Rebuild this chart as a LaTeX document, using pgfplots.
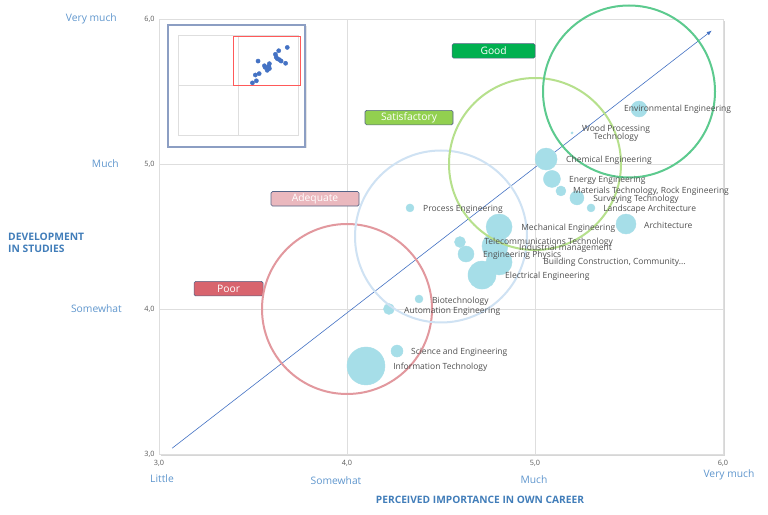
\documentclass[border=0pt]{standalone}
\usepackage{fontspec}
\setmainfont{Open Sans}
\usepackage{pgfplots}
\usepackage{pgfplotstable}
\pgfplotsset{compat=1.18}
\usetikzlibrary{arrows.meta}

\definecolor{bubblec}{RGB}{166,222,232}
\definecolor{dotc}{RGB}{68,114,196}
\definecolor{gridc}{RGB}{222,222,222}
\definecolor{tickc}{RGB}{89,89,89}
\definecolor{lblc}{RGB}{80,80,80}
\definecolor{titlec}{RGB}{65,125,185}
\definecolor{catc}{RGB}{95,150,205}
\definecolor{ringpoor}{RGB}{226,152,158}
\definecolor{ringadeq}{RGB}{207,226,243}
\definecolor{ringsat}{RGB}{182,224,140}
\definecolor{ringgood}{RGB}{92,202,142}
\definecolor{boxgood}{RGB}{0,176,80}
\definecolor{boxsat}{RGB}{146,208,80}
\definecolor{boxadeq}{RGB}{234,184,190}
\definecolor{boxpoor}{RGB}{216,100,110}
\definecolor{boxedge}{RGB}{85,100,135}
\definecolor{insetc}{RGB}{140,158,195}

% importance, development, bubble radius (pt)
\pgfplotstableread{
x     y     r
5.553 5.379 8
5.197 5.214 1.2
5.059 5.034 11
5.090 4.897 8.5
5.138 4.814 5
5.223 4.766 7
5.298 4.697 4
5.484 4.586 10
4.335 4.697 4
4.809 4.566 13
4.601 4.462 5.5
4.633 4.379 8
4.787 4.434 13
4.809 4.324 13
4.718 4.234 14
4.383 4.069 4
4.223 4.000 5.5
4.266 3.710 6
4.101 3.607 19
}\bubbles

% where each name starts (west end of the text)
\pgfplotstableread[col sep=semicolon]{
x;y;label
5.473;5.379;Environmental Engineering
5.165;5.028;Chemical Engineering
5.181;4.890;Energy Engineering
5.202;4.814;Materials Technology, Rock Engineering
5.309;4.759;Surveying Technology
5.362;4.690;Landscape Architecture
5.580;4.579;Architecture
4.926;4.559;Mechanical Engineering
4.404;4.690;Process Engineering
4.729;4.462;Telecommunications Technology
4.915;4.421;Industrial management
4.723;4.372;Engineering Physics
5.043;4.324;Building Construction, Community...
4.840;4.228;Electrical Engineering
4.452;4.055;Biotechnology
4.303;3.986;Automation Engineering
4.340;3.703;Science and Engineering
4.245;3.600;Information Technology
}\names

\begin{document}
\begin{tikzpicture}[
    lbl/.style={font=\fontsize{8.5}{9}\selectfont, text=lblc, inner sep=0pt, anchor=west},
    lvl/.style={draw=boxedge, line width=0.6pt, rounded corners=1.5pt, text=white,
      font=\fontsize{10.3}{11}\selectfont, minimum height=14.5pt, inner sep=0pt},
    cat/.style={font=\fontsize{10.3}{11}\selectfont, text=catc, inner sep=0pt},
  ]
  \useasboundingbox (-159pt,-60pt) rectangle (609pt,454pt);
  \fill[black!16] (2pt,-2pt) rectangle (566pt,433pt);

  \begin{axis}[
      at={(0pt,0pt)}, anchor=south west,
      x=188pt, y=145pt,
      xmin=3, xmax=6, ymin=3, ymax=6,
      xtick={3,4,5,6}, ytick={3,4,5,6},
      axis line style={draw=gridc, line width=0.8pt},
      axis background/.style={fill=white},
      grid=major, major grid style={draw=gridc, line width=0.7pt},
      tick style={draw=none},
      ticklabel style={font=\fontsize{7.3}{8}\selectfont, text=tickc},
      /pgf/number format/use comma,
      /pgf/number format/fixed,
      /pgf/number format/fixed zerofill,
      /pgf/number format/precision=1,
      /pgf/number format/assume math mode=true,
      xticklabel style={yshift=-3pt},
      yticklabel style={xshift=-1pt},
      clip=false,
    ]
    \addplot[scatter, only marks, mark=*,
      scatter/use mapped color={draw=bubblec, fill=bubblec},
      visualization depends on={\thisrow{r} \as \rad},
      scatter/@pre marker code/.append style={/tikz/mark size=\rad pt}]
      table[x=x, y=y, meta=r] {\bubbles};

    \addplot[only marks, mark=o, mark size=85pt,
      mark options={line width=2pt, draw=ringpoor}]
      coordinates {(4.0,4.0)};
    \addplot[only marks, mark=o, mark size=86pt,
      mark options={line width=2pt, draw=ringadeq}]
      coordinates {(4.5,4.5)};
    \addplot[only marks, mark=o, mark size=86pt,
      mark options={line width=2pt, draw=ringsat}]
      coordinates {(5.0,5.0)};
    \addplot[only marks, mark=o, mark size=86pt,
      mark options={line width=2pt, draw=ringgood}]
      coordinates {(5.5,5.5)};

    \addplot[dotc, line width=0.6pt, -{Latex[length=5pt,width=4pt]}]
      coordinates {(3.07,3.04) (5.94,5.92)};

    % names, drawn after the bubbles so that they lie on top
    \addplot[only marks, mark=none, nodes near coords,
      point meta=explicit symbolic,
      every node near coord/.style={lbl}]
      table[x=x, y=y, meta=label] {\names};
    \addplot[only marks, mark=none, nodes near coords,
      point meta=explicit symbolic,
      every node near coord/.style={lbl, anchor=center, align=center}]
      coordinates {(5.431,5.214) [{Wood Processing\\[-1pt]Technology}]};

    \node[lvl, fill=boxgood, minimum width=83pt] at (axis cs:4.78,5.78) {Good};
    \node[lvl, fill=boxsat, minimum width=88pt] at (axis cs:4.33,5.32) {Satisfactory};
    \node[lvl, fill=boxadeq, minimum width=88pt] at (axis cs:3.83,4.76) {Adequate};
    \node[lvl, fill=boxpoor, minimum width=69pt] at (axis cs:3.37,4.14) {Poor};
  \end{axis}

  % overview inset
  \fill[black!10] (10.5pt,305.5pt) rectangle (148pt,428pt);
  \fill[white] (9pt,307pt) rectangle (146pt,429pt);
  \draw[insetc, line width=1.2pt] (9pt,307pt) rectangle (146pt,429pt);
  \begin{axis}[
      at={(19pt,319pt)}, anchor=south west,
      width=120pt, height=100pt, scale only axis,
      xmin=1, xmax=6, ymin=1, ymax=6,
      xtick={1,3.5,6}, ytick={1,3.5,6},
      xticklabels={}, yticklabels={},
      tick style={draw=none},
      axis line style={draw=gridc, line width=0.6pt},
      grid=major, major grid style={draw=gridc, line width=0.6pt},
      clip=false,
    ]
    \addplot[only marks, mark=*, mark size=2.1pt, color=dotc]
      table[x=x, y=y] {\bubbles};
    \draw[red!65, line width=0.8pt] (axis cs:3.3,3.5) rectangle (axis cs:6.1,5.95);
  \end{axis}

  % category names along the axes
  \node[cat, anchor=east] at (-42pt,435pt) {Very much};
  \node[cat, anchor=east] at (-40pt,290pt) {Much};
  \node[cat, anchor=east] at (-37pt,145pt) {Somewhat};
  \node[cat] at (3pt,-25pt) {Little};
  \node[cat] at (177pt,-27pt) {Somewhat};
  \node[cat] at (375pt,-26pt) {Much};
  \node[cat] at (570pt,-21pt) {Very much};

  \node[font=\fontsize{10.3}{12}\selectfont\bfseries, text=titlec, align=left,
    anchor=west, inner sep=0pt] at (-151pt,211pt) {DEVELOPMENT\\IN STUDIES};
  \node[font=\fontsize{10.2}{11}\selectfont\bfseries, text=titlec, inner sep=0pt]
    at (321pt,-46pt) {PERCEIVED IMPORTANCE IN OWN CAREER};
\end{tikzpicture}
\end{document}
